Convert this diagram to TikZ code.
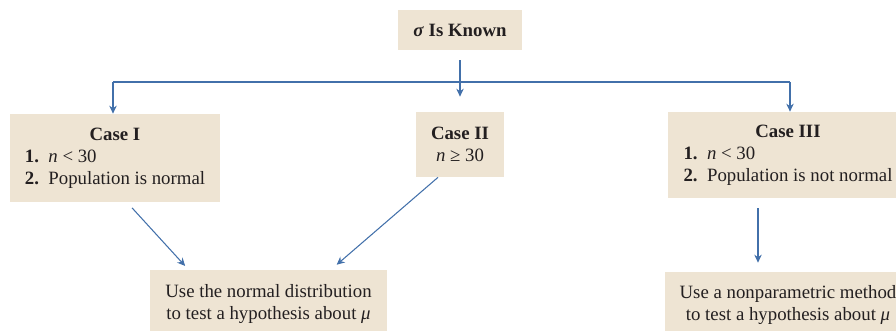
\documentclass[tikz,border=0pt]{standalone}
\usepackage{fontspec}
\setmainfont{Liberation Serif}
\usepackage{tikz}
\usetikzlibrary{positioning, arrows.meta}
\usepackage{xcolor}
\definecolor{boxfill}{RGB}{238,228,211}
\definecolor{linkblue}{RGB}{66,112,170}
\definecolor{inktext}{RGB}{35,31,32}
\tikzset{casebox/.style={fill=boxfill, text=inktext, inner xsep=0.3cm, inner ysep=0pt,
           font=\fontsize{10.7}{12.5}\selectfont},
         link/.style={draw=linkblue, line width=0.6pt},
         linkarrow/.style={link, -{Stealth[length=1.6mm, width=1.5mm]}}}

\begin{document}
\begin{tikzpicture}
        % Frame
        \useasboundingbox (0,0) rectangle (17.92,6.62);

        % Nodes
        \node[casebox, minimum width=2.28cm, minimum height=0.8cm] (known) at (9.2,6.02)
            {\textbf{\textit{σ}} \textbf{Is Known}};
        \node[casebox, minimum width=4.2cm, minimum height=1.76cm] (case1) at (2.3,3.46)
            {\begin{tabular}{@{}l@{}}
             \multicolumn{1}{c}{\textbf{Case I}}\\
             \textbf{1.}\enspace\textit{n} < 30\\
             \textbf{2.}\enspace Population is normal
             \end{tabular}};
        \node[casebox, minimum width=1.72cm, minimum height=1.3cm, align=center] (case2) at (9.2,3.73)
            {\textbf{Case II}\\ \textit{n} ≥ 30};
        \node[casebox, minimum width=4.8cm, minimum height=1.72cm] (case3) at (15.76,3.52)
            {\begin{tabular}{@{}l@{}}
             \multicolumn{1}{c}{\textbf{Case III}}\\
             \textbf{1.}\enspace\textit{n} < 30\\
             \textbf{2.}\enspace Population is not normal
             \end{tabular}};
        \node[casebox, minimum width=4.74cm, minimum height=1.36cm, align=center] (normal) at (5.37,0.54)
            {Use the normal distribution\\ to test a hypothesis about \textit{μ}};
        \node[casebox, minimum width=4.92cm, minimum height=1.32cm, align=center] (nonpar) at (15.76,0.52)
            {Use a nonparametric method\\ to test a hypothesis about \textit{μ}};

        % Edges
        \coordinate (busL) at (2.26,4.98);
        \coordinate (busR) at (15.8,4.98);
        \draw[linkarrow, shorten <=2mm, shorten >=3mm] (known) -- (case2);
        \draw[link] (busL) -- (busR);
        \draw[linkarrow] (busL) -- (busL |- case1.north);
        \draw[linkarrow] (busR) -- (busR |- case3.north);
        \draw[linkarrow, shorten <=1.5mm, shorten >=1mm] ([xshift=2.4mm]case1.south) -- ([xshift=-16mm]normal.north);
        \draw[linkarrow, shorten >=1.5mm] ([xshift=-4.4mm]case2.south) -- ([xshift=12.5mm]normal.north);
        \draw[linkarrow, shorten <=2mm, shorten >=1.8mm] ([xshift=-6mm]case3.south) -- ([xshift=-6mm]nonpar.north);
\end{tikzpicture}
\end{document}
